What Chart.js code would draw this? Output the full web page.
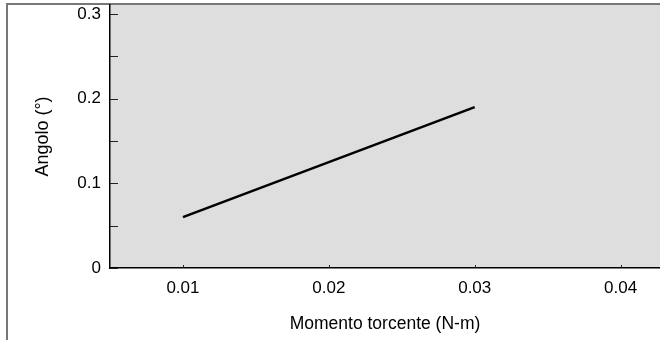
<!DOCTYPE html>
<html>
<head>
<meta charset="utf-8">
<script src="https://cdn.jsdelivr.net/npm/chart.js@4"></script>
<style>
    html, body { margin: 0; padding: 0; background: #fff; }
    #wrap { width: 660px; height: 340px; position: relative; }
</style>
</head>
<body>
<div id="wrap"><canvas id="chart"></canvas></div>
<script>
// dati
const momento = [0.01, 0.03];
const angolo = [0.06, 0.19];
const xTicks = [0.01, 0.02, 0.03, 0.04];
const yTicks = [0, 0.05, 0.1, 0.15, 0.2, 0.25, 0.3];
const yLabels = [0, 0.1, 0.2, 0.3];

const FONT = "'Liberation Sans', Arial, sans-serif";

// sfondo grigio, cornice e tacche interne
const framePlugin = {
    id: 'frame',
    beforeDraw(chart) {
        const { ctx, chartArea: a } = chart;
        ctx.save();
        ctx.fillStyle = '#dedede';
        ctx.fillRect(a.left, a.top, a.right - a.left, a.bottom - a.top);
        ctx.strokeStyle = '#777';
        ctx.lineWidth = 2;
        ctx.beginPath();
        ctx.moveTo(7, 340);
        ctx.lineTo(7, 4);
        ctx.lineTo(660, 4);
        ctx.stroke();
        ctx.restore();
    },
    afterDatasetsDraw(chart) {
        const { ctx, chartArea: a, scales } = chart;
        ctx.save();
        ctx.strokeStyle = '#222';
        ctx.lineWidth = 1;
        ctx.beginPath();
        yTicks.forEach(v => {
            const y = Math.round(scales.y.getPixelForValue(v)) + 0.5;
            ctx.moveTo(a.left, y);
            ctx.lineTo(a.left + 8, y);
        });
        xTicks.forEach(v => {
            const x = Math.round(scales.x.getPixelForValue(v)) + 0.5;
            ctx.moveTo(x, a.bottom);
            ctx.lineTo(x, a.bottom - 3);
        });
        ctx.stroke();
        ctx.restore();
    }
};

function noPad(scale) {
    scale.paddingTop = 0;
    scale.paddingBottom = 0;
    scale.paddingLeft = 0;
    scale.paddingRight = 0;
}

new Chart(document.getElementById('chart'), {
    type: 'line',
    data: {
        datasets: [{
            data: momento.map((x, i) => ({ x: x, y: angolo[i] })),
            borderColor: '#000',
            borderWidth: 2.5,
            pointRadius: 0,
            tension: 0
        }]
    },
    options: {
        responsive: true,
        maintainAspectRatio: false,
        animation: false,
        layout: { padding: { top: 5, right: 0, left: 0, bottom: 0 } },
        plugins: { legend: { display: false }, tooltip: { enabled: false } },
        scales: {
            x: {
                type: 'linear',
                min: 0.005,
                max: 0.0427,
                afterFit(scale) { scale.height = 72; noPad(scale); },
                afterBuildTicks(scale) { scale.ticks = xTicks.map(v => ({ value: v })); },
                grid: { display: false, drawTicks: false },
                border: { display: true, color: '#000', width: 1.5 },
                ticks: {
                    padding: 10,
                    color: '#000',
                    font: { family: FONT, size: 17 },
                    maxRotation: 0,
                    callback: v => String(v)
                },
                title: {
                    display: true,
                    text: 'Momento torcente (N-m)',
                    color: '#000',
                    font: { family: FONT, size: 17.5 },
                    padding: { top: 0, bottom: 5 }
                }
            },
            y: {
                type: 'linear',
                min: 0,
                max: 0.3106,
                afterFit(scale) { scale.width = 110; noPad(scale); },
                afterBuildTicks(scale) { scale.ticks = yTicks.map(v => ({ value: v })); },
                grid: { display: false, drawTicks: false },
                border: { display: true, color: '#000', width: 1.5 },
                ticks: {
                    padding: 9,
                    color: '#000',
                    font: { family: FONT, size: 17 },
                    callback: v => yLabels.some(l => Math.abs(l - v) < 1e-9) ? String(Math.round(v * 10) / 10) : ''
                },
                title: {
                    display: true,
                    text: 'Angolo (°)',
                    color: '#000',
                    font: { family: FONT, size: 18 },
                    padding: { top: 32, bottom: 0 }
                }
            }
        }
    },
    plugins: [framePlugin]
});
</script>
</body>
</html>
